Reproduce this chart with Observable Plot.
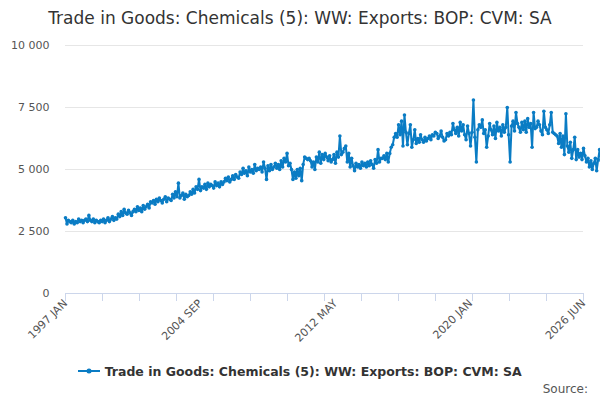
<!DOCTYPE html>
<html><head><meta charset="utf-8">
<script src="https://cdn.jsdelivr.net/npm/d3@7"></script>
<script src="https://cdn.jsdelivr.net/npm/@observablehq/plot@0.6"></script>
<style>
body{margin:0;font-family:"DejaVu Sans",sans-serif;background:#fff}
#t{font-size:17px;text-align:center;color:#333;padding-top:8px;height:24px}
#lg{font-size:12.5px;font-weight:bold;color:#333;text-align:center;margin-top:16px}
#src{font-size:12px;color:#555;text-align:right;margin-right:12px;margin-top:3px}
svg{overflow:visible}
</style></head><body>
<div id="t">Trade in Goods: Chemicals (5): WW: Exports: BOP: CVM: SA</div>
<div id="c"></div>
<div id="lg"><svg width="22" height="10"><line x1="0" y1="5" x2="22" y2="5" stroke="#0a7cc4" stroke-width="2"/><circle cx="11" cy="5" r="2.5" fill="#0a7cc4"/></svg> Trade in Goods: Chemicals (5): WW: Exports: BOP: CVM: SA</div>
<div id="src">Source:</div>
<script>
const startYear = 1997;
const values = [
3050,2800,2950,2900,2850,2950,2800,2900,2850,3000,2900,2950,
2850,2950,3000,2900,3150,2950,2900,3000,2850,2950,2900,2850,
2950,2900,3000,2850,2950,3050,2900,3000,3100,2950,3050,3000,
3200,3100,3300,3150,3400,3250,3200,3350,3250,3150,3300,3400,
3300,3500,3350,3450,3300,3550,3400,3500,3600,3450,3700,3650,
3750,3600,3800,3700,3850,3750,3650,3800,3900,3700,3850,3800,
3750,4000,3850,4100,3900,4450,3850,3950,4050,3800,4000,3900,
3950,4100,4000,4200,4050,4300,4200,4600,4150,4300,4250,4400,
4200,4450,4300,4400,4350,4250,4500,4350,4450,4300,4500,4400,
4500,4650,4550,4700,4500,4600,4750,4600,4800,4700,4650,4900,
4800,5050,4850,4950,4750,5100,4900,5000,4850,5200,4950,5050,
5000,5100,4900,5300,5050,4600,5150,4950,5200,5000,5100,5250,
5050,5200,5000,5350,5100,5450,5300,5650,5150,5250,5000,4600,
4900,4650,5000,4750,5050,4550,5200,5500,5450,5400,5450,5350,
5100,5300,5000,5500,5300,5700,5250,5600,5400,5650,5500,5350,
5550,5300,5400,5600,5250,5700,5500,6350,5600,5700,5850,5950,
5300,5650,5100,5450,5150,4950,5250,5100,5200,5050,5300,5150,
5250,5100,5300,5150,5350,5200,5050,5400,5250,5800,5300,5450,
5450,5550,5400,5650,5300,5650,5900,6000,6300,6450,6300,6800,
6400,6950,5950,7200,6500,6000,6450,6800,5900,6200,6600,6050,
6250,6100,6400,6200,6100,6300,6150,6250,6350,6200,6400,6350,
6500,6450,6250,6350,6550,6300,6150,6200,6450,6350,6500,6400,
6850,6600,6450,6700,6350,6900,6550,6800,6400,6200,6750,6450,
5950,6500,7800,6300,5300,6600,6800,6700,7000,6450,6600,5900,
6350,6850,6600,6400,6750,6250,6900,6550,6700,6350,6800,6500,
6700,7500,6400,5300,6750,6950,6550,7300,6850,6700,6500,6900,
6600,6950,6500,7050,6700,6850,5900,7300,6650,6700,6950,6800,
6550,6400,7350,6700,6600,6450,6800,7300,6500,6450,6400,6350,
6050,6450,5900,6350,5600,7250,5950,5700,6100,5450,5800,6300,
5400,5800,5500,5650,5400,5850,5550,5300,5450,5100,5350,5000,
5250,5450,4950,5400,5800,5350
];
const data = values.map((v,i)=>({date:new Date(startYear + Math.floor(i/12), i%12, 1), v}));
const tickLabels = ["1997 JAN","2004 SEP","2012 MAY","2020 JAN","2026 JUN"];
const mon = {JAN:0,FEB:1,MAR:2,APR:3,MAY:4,JUN:5,JUL:6,AUG:7,SEP:8,OCT:9,NOV:10,DEC:11};
const tickDates = tickLabels.map(s=>{const [y,m]=s.split(" ");return new Date(+y,mon[m],1);});
const t0 = +tickDates[0], t1 = +tickDates[4];
const minorTicks = d3.range(0,15).map(k=>new Date(t0 + k*(t1-t0)/14));
const fmt = d=>tickLabels[tickDates.findIndex(t=>+t===+d)];
const chart = Plot.plot({
  width:600,height:316,marginLeft:65,marginRight:17,marginTop:13,marginBottom:55,
  style:{fontFamily:"DejaVu Sans",fontSize:"11px",color:"#555",overflow:"visible"},
  x:{type:"time",domain:[tickDates[0],tickDates[4]]},
  y:{domain:[0,10000]},
  marks:[
    Plot.gridY([2500,5000,7500,10000],{stroke:"#e6e6e6",strokeOpacity:1}),
    Plot.axisY({ticks:[0,2500,5000,7500,10000],tickFormat:d=>d3.format(",")(d).replace(","," "),tickSize:0,tickPadding:16,label:null}),
    Plot.ruleY([0],{stroke:"#ccd6eb"}),
    Plot.axisX({ticks:minorTicks,tickFormat:()=>"",tickSize:8,stroke:"#ccd6eb",strokeOpacity:1,label:null}),
    Plot.axisX({ticks:tickDates,tickFormat:fmt,tickSize:0,tickRotate:-45,tickPadding:8,label:null}),
    Plot.line(data,{x:"date",y:"v",stroke:"#0a7cc4",strokeWidth:2}),
    Plot.dot(data,{x:"date",y:"v",fill:"#0a7cc4",r:1.8})
  ]
});
document.getElementById("c").appendChild(chart);
</script></body></html>
